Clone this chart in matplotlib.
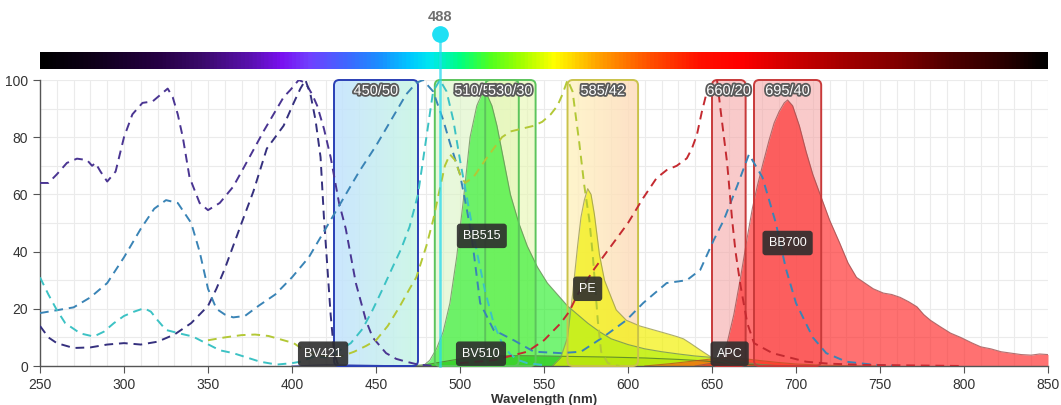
import numpy as np
import matplotlib
matplotlib.use("Agg")
import matplotlib.pyplot as plt
from matplotlib.patches import FancyBboxPatch
from matplotlib.colors import LinearSegmentedColormap, Normalize
import matplotlib.patheffects as pe

# ---------------- data ----------------
# excitation spectra (dashed)
bv421_ex_wl = [250,255,260,270,280,290,300,310,320,330,340,350,355,360,365,370,377,385,390,395,401,405,408,411,414,417,419,421,423,425,427,430]
bv421_ex = [14,10,8,6.3,6.5,7.5,8,7.5,8.5,11,15,21,27,34,42,50,61,76,80,84,92,97,100,95,86,73,52,35,18,5,1,0]

bv510_ex_wl = [250,255,260,266,272,278,281,283,286,290,295,300,305,311,317,322,326,329,332,335,339,345,350,357,365,370,377,383,389,395,399,404,408,412,415,419,423,428,432,438,444,448,456,462,468,475,485]
bv510_ex = [64,64,67,71,72.5,72,70,71,68,64.5,68,80,88,92,92.5,95,97,94,88,80,66,57,54.5,57,62.7,68,75.5,82,88,94,96.5,100,99,95,91,83,73,57,48,29,16,10,4.5,2.5,1.5,0.5,0]

bb515_ex_wl = [250,255,260,265,274,282,288,294,300,306,312,316,320,325,333,341,349,357,365,373,381,391,400,405,413,420,427,435,442,448,454,460,465,470,475,480,484,488,492,496,500,505,510,515,520,525,530,535,540,550]
bb515_ex = [31,25,19.6,15,11.4,10.3,12,15,17.5,19,20.2,19,16,12.6,11.4,10.3,7.9,5.5,4.5,3,1.5,0.5,1,1.5,3.3,3,5,8,13,19.6,27,34.7,41,48.7,60,80,96,100,96,86,72,56,40,26,15,8,4,2,1,0.3]

bb700_ex_wl = [250,260,270,280,290,300,310,318,325,332,340,345,350,355,360,365,372,380,390,400,410,421,430,440,450,460,468,474,478,484,490,494,500,504,507,512,520,532,544,560,572,585,599,609,623,635,643,651,657,665,672,680,688,694,700,710,718,730,745,760]
bb700_ex = [18.5,19.5,20.5,24,29,38,48,55,58,57,50,40,27,20,18,17,17.5,21,25,31,38,49,58,68,77,87,95,99,100,96,86,78,67,55,45,22,12.6,9,5,4.5,5,10,16,22,29,30,33.6,44,51,63,74,66,50,34,22,10,4.5,1.5,0.5,0]

pe_ex_wl = [350,360,370,378,386,395,401,406,411,420,430,437,444,450,457,464,470,474,480,484,488,491,494,497,500,503,508,515,520,525,530,537,544,549,554,558,561,564,567,571,574,577,579,582,584,588,595]
pe_ex = [9,10,10.8,11,10.5,9,8,6,4.5,3.5,3.5,5,7,9,14,20.7,27,31,42,51,62,70,74,72,67,64,66,72,76,80,82,83,84,85.4,88,91,95,100,96,78,63,51,39,16,5,1,0]

apc_ex_wl = [500,520,540,550,560,565,570,580,590,600,609,617,623,629,635,638,641,644,647,650,653,655,659,662,664,667,671,675,686,706,720,740,800]
apc_ex = [1,2,5,9,15,19,25,34,42,50,58.7,65.7,68.5,70,72.6,76,80.8,89,96,99,100,90,71,51,40,28,15,8,4.5,1.5,0.8,0.4,0]

# emission spectra (filled), scaled by 488 nm excitation
bv421_em_wl = [400,410,420,430,440,450,460,470]
bv421_em = [0,0.2,0.4,0.4,0.3,0.2,0.1,0]

bv510_em_wl = [470,480,490,500,510,520,535,550,570,590,610,630,645,655,665,680,700]
bv510_em = [0,0.5,1.5,2.5,3.2,3.5,3.6,3.5,3.3,3.1,2.8,2.3,1.8,1.2,0.7,0.3,0]

bb515_em_wl = [478,482,486,490,494,498,502,506,510,513,516,519,522,526,530,535,540,546,552,558,564,570,576,583,590,600,610,620,630,640,650,660,670,680,690]
bb515_em = [0,2,6,12,22,38,58,80,91,95,95,91,84,72,60,50,42,34.7,29,25,21,18,15,12,9.5,7.5,6,5,4.2,3.5,3,2,1.2,0.5,0]

pe_em_wl = [555,560,564,567,570,572,574,576,578,580,583,586,590,593,599,607,613,619,625,629,633,637,643,649,655,662,668]
pe_em = [0,3,10,25,42,52,58,62,60,53,39,30,24,19.6,16,14,13,12,11,10.3,9.5,8,5.6,3.3,1.8,0.5,0]

apc_em_wl = [610,625,640,650,660,670,680,690,700,715,730,750]
apc_em = [0,0.8,1.8,2.5,2.8,2.5,1.8,1.2,0.7,0.3,0.1,0]

bb700_em_wl = [640,650,655,659,663,667,671,674,677,680,684,687,690,693,695,698,702,706,710,715,720,726,731,736,741,746,752,757,762,767,772,776,780,786,792,798,805,810,816,822,828,834,840,845,850]
bb700_em = [0,1,3,8,18,31,45,55,63,70,79,85,89,92,93,91,84,75,67,59,51,43,36,31,29,27,25.5,25,24,22.5,20.7,18,16,13.7,11.5,10,8,6.7,6,5,4.5,4,3.8,4.2,4]

# filters: name, center, bandwidth
filter_names = ["450/50", "510/50", "530/30", "585/42", "660/20", "695/40"]
filter_centers = [450, 510, 530, 585, 660, 695]
filter_widths = [50, 50, 30, 42, 20, 40]

fluor_names = ["BV421", "BV510", "BB515", "PE", "APC", "BB700"]
laser_wl = 488

x_ticks = [250, 300, 350, 400, 450, 500, 550, 600, 650, 700, 750, 800, 850]
y_ticks = [0, 20, 40, 60, 80, 100]

# ---------------- styles ----------------
W, H = 1061, 405
fig = plt.figure(figsize=(W / 100, H / 100), dpi=100)
ax = fig.add_axes([40 / W, 1 - 366 / H, 1008 / W, 286 / H])
bar = fig.add_axes([40 / W, 1 - 69 / H, 1008 / W, 17 / H])
ax.set_zorder(3)
bar.set_zorder(1)

FONT = ["Liberation Sans", "DejaVu Sans"]

# spectrum bar
spec_anchors = [(250, "#000000"), (280, "#0e0018"), (320, "#260044"), (345, "#3a0a6a"),
                (375, "#5a10b0"), (393, "#7a10f0"), (410, "#7040ff"), (434, "#3b6bff"),
                (452, "#1a8fff"), (470, "#00c8ff"), (482, "#00e8f0"), (500, "#00ff80"),
                (518, "#50ff20"), (536, "#a0ff00"), (556, "#ffff00"), (583, "#ffa000"),
                (613, "#ff5000"), (643, "#ff1000"), (667, "#ff0000"), (696, "#d00000"),
                (732, "#a00000"), (762, "#800000"), (792, "#500000"), (821, "#300000"),
                (850, "#000000")]
spec_cmap = LinearSegmentedColormap.from_list(
    "spec", [((w - 250) / 600, c) for w, c in spec_anchors])
grad = np.linspace(250, 850, 1200)[None, :]
bar.imshow(grad, cmap=spec_cmap, norm=Normalize(250, 850), aspect="auto",
           extent=[250, 850, 0, 1])
bar.set_xlim(250, 850)
bar.axis("off")

# grid & axes
ax.set_xlim(250, 850)
ax.set_ylim(0, 100)
ax.set_xticks(x_ticks)
ax.set_yticks(y_ticks)
ax.set_xticks(np.arange(250, 851, 10), minor=True)
ax.set_yticks(np.arange(0, 101, 10), minor=True)
ax.grid(which="both", color="#ebebeb", lw=0.8, zorder=0)
ax.set_axisbelow(True)
ax.tick_params(which="minor", length=0)
ax.tick_params(which="major", length=5, color="#555555", labelsize=10,
               labelcolor="#333333")
for s in ["top", "right"]:
    ax.spines[s].set_visible(False)
for s in ["left", "bottom"]:
    ax.spines[s].set_color("#555555")
    ax.spines[s].set_linewidth(1.0)
for lab in ax.get_xticklabels() + ax.get_yticklabels():
    lab.set_family(FONT)
ax.set_xlabel("Wavelength (nm)", fontsize=9.5, fontweight="bold", color="#333333",
              family=FONT)
ax.xaxis.set_label_coords(0.5, -0.098)

# filter boxes (fill below emissions, border above)
filter_styles = [
    ("#c2e2ff", "#c6f6e4", "#2a3fb5", 0.85),
    ("#d9f4c4", "#dff6c0", "#5cc45c", 0.6),
    ("#e6f7b0", "#e8f7b0", "#5cc45c", 0.6),
    ("#fff3c0", "#fdd9b8", "#c9c24a", 0.8),
    ("#f5a8a8", "#f5a8a8", "#c83a3a", 0.6),
    ("#f5a8a8", "#f5a8a8", "#c83a3a", 0.6),
]
m_aspect = (1008 / 600) / (286 / 100)
for name, c, w, (cl, cr, ec, a) in zip(filter_names, filter_centers, filter_widths, filter_styles):
    x0 = c - w / 2
    clip = FancyBboxPatch((x0, 0), w, 100, boxstyle="round,pad=0,rounding_size=3.2",
                          mutation_aspect=m_aspect, fc="none", ec="none",
                          transform=ax.transData)
    ax.add_patch(clip)
    cm = LinearSegmentedColormap.from_list("f", [cl, cr])
    im = ax.imshow(np.linspace(0, 1, 64)[None, :], cmap=cm, aspect="auto",
                   extent=[x0, x0 + w, 0, 100], alpha=a, zorder=1.5,
                   interpolation="bilinear")
    im.set_clip_path(clip)
    border = FancyBboxPatch((x0, 0), w, 100, boxstyle="round,pad=0,rounding_size=3.2",
                            mutation_aspect=m_aspect, fc="none", ec=ec, lw=1.4,
                            zorder=3.5, clip_on=False)
    ax.add_patch(border)

# emission fills
emis = [
    (bv421_em_wl, bv421_em, "#2a2aa0", 0.6, "#2a2aa0"),
    (bv510_em_wl, bv510_em, "#3d8f14", 0.75, "#4a7a2a"),
    (bb515_em_wl, bb515_em, "#22ee22", 0.62, "#6b8f5a"),
    (pe_em_wl, pe_em, "#f2f000", 0.68, "#9a9a50"),
    (apc_em_wl, apc_em, "#ff5a10", 0.7, "#c05020"),
    (bb700_em_wl, bb700_em, "#ff2525", 0.65, "#a05050"),
]
for wl, v, c, a, ec in emis:
    ax.fill_between(wl, v, 0, color=c, alpha=a, lw=0, zorder=2)
    ax.plot(wl, v, color=ec, lw=0.8, alpha=0.8, zorder=2.1)

# excitation dashed lines
excs = [
    (bv510_ex_wl, bv510_ex, "#4a3592"),
    (bv421_ex_wl, bv421_ex, "#35307e"),
    (bb700_ex_wl, bb700_ex, "#3a84b6"),
    (bb515_ex_wl, bb515_ex, "#3cc2c4"),
    (pe_ex_wl, pe_ex, "#b3c836"),
    (apc_ex_wl, apc_ex, "#c42a30"),
]
for wl, v, c in excs:
    ax.plot(wl, v, color=c, lw=1.4, ls=(0, (4.5, 3)), zorder=4)

# filter labels
for name, c in zip(filter_names, filter_centers):
    ax.text(c, 96.2, name, ha="center", va="center", color="white", fontsize=10.5,
            family=FONT, zorder=6,
            path_effects=[pe.withStroke(linewidth=2.6, foreground="#5a5a5a")])

# fluor labels
fluor_pos = {"BV421": (418.5, 4.3), "BV510": (512.5, 4.3), "BB515": (513, 45.5),
             "PE": (576, 27), "APC": (660.5, 4.3), "BB700": (695, 43)}
for n in fluor_names:
    x, y = fluor_pos[n]
    ax.text(x, y, n, ha="center", va="center", color="white", fontsize=9,
            family=FONT, zorder=7,
            bbox=dict(boxstyle="round,pad=0.5,rounding_size=0.25", fc="#2e2e2e",
                      ec="none", alpha=0.9))

# laser line
ax.plot([laser_wl, laser_wl], [0, 116], color="#25d9ee", lw=1.8, alpha=0.75,
        clip_on=False, zorder=5)
ax.plot([laser_wl], [116], "o", ms=11, color="#1fe0f4", clip_on=False, zorder=8)
ax.text(laser_wl, 122, str(laser_wl), ha="center", va="center", color="#707070",
        fontsize=10.5, fontweight="bold", family=FONT, clip_on=False)

ax.set_xlim(250, 850)
ax.set_ylim(0, 100)
fig.savefig("out.png", dpi=100)
